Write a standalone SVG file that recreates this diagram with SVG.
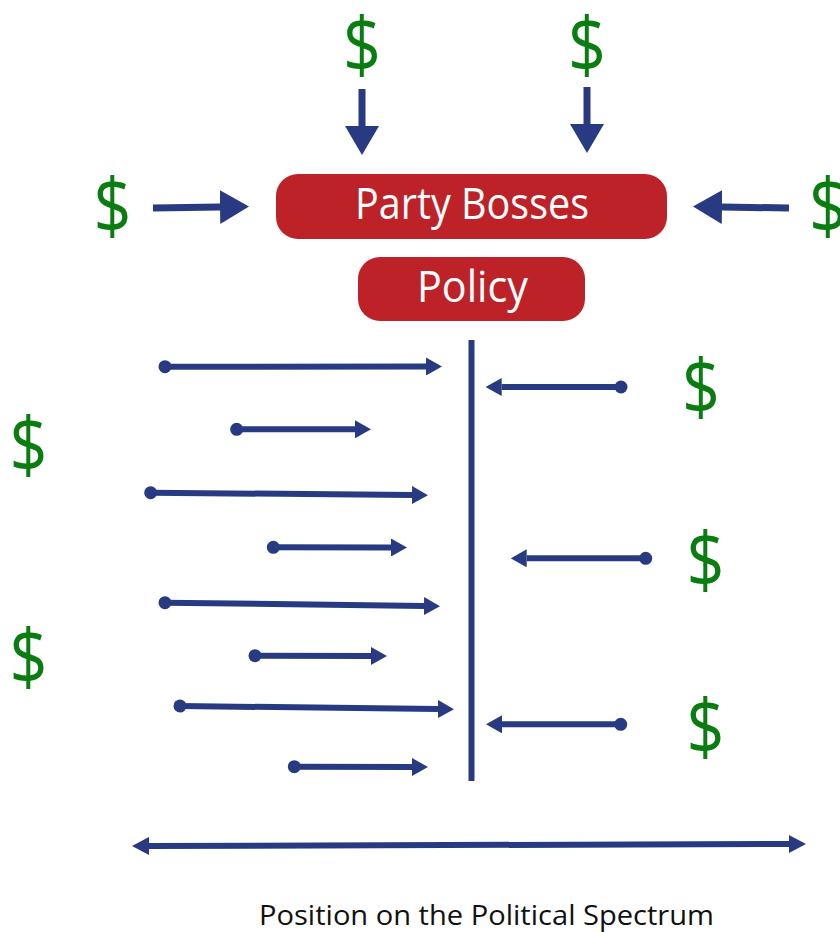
<svg xmlns="http://www.w3.org/2000/svg" width="840" height="932" viewBox="0 0 840 932">
<style>
.usd{font-family:"Open Sans","Noto Sans","DejaVu Sans",sans-serif;font-size:77px;fill:#0a7d10;text-anchor:middle}
.lbl{font-family:"Open Sans","Noto Sans","DejaVu Sans",sans-serif;fill:#ffffff;text-anchor:middle}
.box{fill:#be2229}
.big{stroke:#283b82;stroke-width:7;fill:none;marker-end:url(#bigHead)}
.sm{stroke:#283b82;stroke-width:6;fill:none;marker-start:url(#dot);marker-end:url(#head)}
.cap{font-family:"Open Sans","Noto Sans","DejaVu Sans",sans-serif;font-size:28px;fill:#111;text-anchor:middle}
</style>
<defs>
<marker id="bigHead" markerUnits="userSpaceOnUse" viewBox="0 -17 30 34" refX="0" refY="0" markerWidth="30" markerHeight="34" orient="auto"><path d="M0,-17 L29,0 L0,17 z" fill="#283b82"/></marker>
<marker id="head" markerUnits="userSpaceOnUse" viewBox="0 -9 16 18" refX="0" refY="0" markerWidth="16" markerHeight="18" orient="auto"><path d="M0,-9 L16,0 L0,9 z" fill="#283b82"/></marker>
<marker id="headBoth" markerUnits="userSpaceOnUse" viewBox="0 -9 17 18" refX="0" refY="0" markerWidth="17" markerHeight="18" orient="auto-start-reverse"><path d="M0,-9 L17,0 L0,9 z" fill="#283b82"/></marker>
<marker id="dot" markerUnits="userSpaceOnUse" viewBox="-7 -7 14 14" refX="0" refY="0" markerWidth="14" markerHeight="14" orient="auto"><circle cx="0" cy="0" r="6.5" fill="#283b82"/></marker>
</defs>
<rect width="840" height="932" fill="#ffffff"/>

<g id="money">
<text class="usd" x="362" y="71.5" textLength="38" lengthAdjust="spacingAndGlyphs">$</text>
<text class="usd" x="587" y="71.5" textLength="38" lengthAdjust="spacingAndGlyphs">$</text>
<text class="usd" x="112.5" y="232.5" textLength="38" lengthAdjust="spacingAndGlyphs">$</text>
<text class="usd" x="828" y="232.5" textLength="38" lengthAdjust="spacingAndGlyphs">$</text>
<text class="usd" x="28.5" y="471.5" textLength="38" lengthAdjust="spacingAndGlyphs">$</text>
<text class="usd" x="28.5" y="683.5" textLength="38" lengthAdjust="spacingAndGlyphs">$</text>
<text class="usd" x="701" y="414" textLength="38" lengthAdjust="spacingAndGlyphs">$</text>
<text class="usd" x="705.5" y="586.5" textLength="38" lengthAdjust="spacingAndGlyphs">$</text>
<text class="usd" x="705.5" y="753.5" textLength="38" lengthAdjust="spacingAndGlyphs">$</text>
</g>

<g id="party-bosses">
<rect class="box" x="276" y="174" width="391" height="65" rx="22"/>
<text class="lbl" x="472" y="219" font-size="43" textLength="234" lengthAdjust="spacingAndGlyphs">Party Bosses</text>
</g>
<g id="policy">
<rect class="box" x="358" y="257" width="227" height="64" rx="22"/>
<text class="lbl" x="472.5" y="302" font-size="43" textLength="111" lengthAdjust="spacingAndGlyphs">Policy</text>
</g>

<g id="connectors">
<line class="big" x1="362" y1="89" x2="362" y2="126"/>
<line class="big" x1="587" y1="87" x2="587" y2="124"/>
<line class="big" x1="153" y1="208" x2="220" y2="207"/>
<line class="big" x1="789" y1="208" x2="722" y2="207"/>

<line x1="471.5" y1="340" x2="471.5" y2="781" stroke="#283b82" stroke-width="6"/>

<line class="sm" x1="165" y1="366.7" x2="426" y2="366.5"/>
<line class="sm" x1="236.7" y1="429.3" x2="355" y2="429.3"/>
<line class="sm" x1="150.7" y1="492.7" x2="412" y2="495"/>
<line class="sm" x1="273.3" y1="547.3" x2="391" y2="547.5"/>
<line class="sm" x1="165" y1="602.7" x2="424" y2="606"/>
<line class="sm" x1="255" y1="655.7" x2="371" y2="656"/>
<line class="sm" x1="180" y1="706" x2="438" y2="709"/>
<line class="sm" x1="294.3" y1="766.7" x2="412" y2="767"/>

<line class="sm" x1="621" y1="387" x2="501.7" y2="387"/>
<line class="sm" x1="645.7" y1="558.3" x2="526.7" y2="558.3"/>
<line class="sm" x1="620.7" y1="724.3" x2="502" y2="724.3"/>

<line x1="149" y1="846" x2="789" y2="844" stroke="#283b82" stroke-width="6" marker-start="url(#headBoth)" marker-end="url(#headBoth)"/>
</g>

<g id="axis-label">
<text class="cap" x="486.5" y="925" textLength="455" lengthAdjust="spacingAndGlyphs">Position on the Political Spectrum</text>
</g>
</svg>
